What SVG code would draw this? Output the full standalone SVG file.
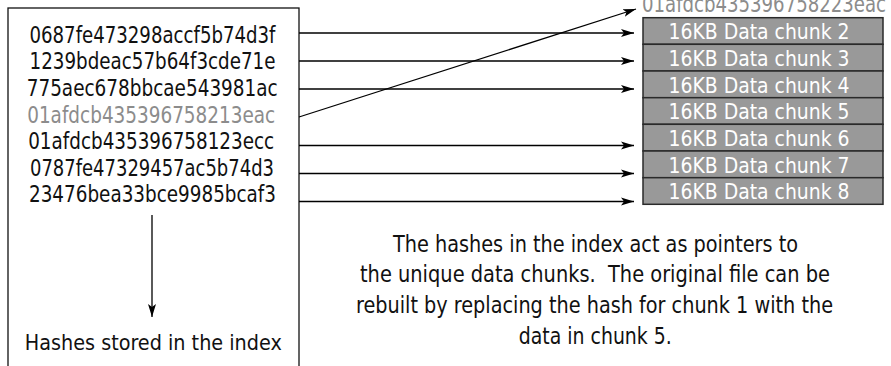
<svg xmlns="http://www.w3.org/2000/svg" width="891" height="366" viewBox="0 0 891 366">
<style>
.t{font-family:"DejaVu Sans Condensed","Liberation Sans",Arial,sans-serif;font-size:23px;fill:#111;text-anchor:middle}
.g{fill:#8c8c8c}
.c{font-family:"DejaVu Sans Condensed","Liberation Sans",Arial,sans-serif;font-size:21px;fill:#fff;text-anchor:middle}
.ch{fill:#999;stroke:#2a2a2a;stroke-width:1.5}
.ln{stroke:#000;stroke-width:1.3;fill:none}
</style>
<defs>
<marker id="ah" markerUnits="userSpaceOnUse" markerWidth="14" markerHeight="10" refX="13" refY="5" orient="auto">
<path d="M0,1 L13,5 L0,9 L3,5 Z" fill="#000"/>
</marker>
</defs>
<rect x="0" y="0" width="891" height="366" fill="#fff"/>
<g id="index">
<rect x="8" y="8" width="291" height="370" fill="#fff" stroke="#111" stroke-width="1.3"/>
<text class="t" x="152.5" y="42.5" textLength="246" lengthAdjust="spacingAndGlyphs">0687fe473298accf5b74d3f</text>
<text class="t" x="152.5" y="69.2" textLength="246" lengthAdjust="spacingAndGlyphs">1239bdeac57b64f3cde71e</text>
<text class="t" x="152.2" y="95.8" textLength="251" lengthAdjust="spacingAndGlyphs">775aec678bbcae543981ac</text>
<text class="t g" x="151.2" y="122.5" textLength="248" lengthAdjust="spacingAndGlyphs">01afdcb435396758213eac</text>
<text class="t" x="151.2" y="149.1" textLength="246" lengthAdjust="spacingAndGlyphs">01afdcb435396758123ecc</text>
<text class="t" x="152" y="175.8" textLength="244" lengthAdjust="spacingAndGlyphs">0787fe47329457ac5b74d3</text>
<text class="t" x="152.5" y="202.4" textLength="247" lengthAdjust="spacingAndGlyphs">23476bea33bce9985bcaf3</text>
<text class="t" x="153.3" y="350" style="font-size:22px" textLength="257" lengthAdjust="spacingAndGlyphs">Hashes stored in the index</text>
</g>
<g id="chunks">
<text class="t g" x="764" y="12" textLength="244" lengthAdjust="spacingAndGlyphs">01afdcb435396758223eac</text>
<rect class="ch" x="643" y="17.7" width="240" height="26.6"/>
<rect class="ch" x="643" y="44.3" width="240" height="26.7"/>
<rect class="ch" x="643" y="71" width="240" height="26.7"/>
<rect class="ch" x="643" y="97.7" width="240" height="26.6"/>
<rect class="ch" x="643" y="124.3" width="240" height="26.7"/>
<rect class="ch" x="643" y="151" width="240" height="26.7"/>
<rect class="ch" x="643" y="177.7" width="240" height="26.6"/>
<text class="c" x="759" y="39.3" textLength="181" lengthAdjust="spacingAndGlyphs">16KB Data chunk 2</text>
<text class="c" x="759" y="66" textLength="181" lengthAdjust="spacingAndGlyphs">16KB Data chunk 3</text>
<text class="c" x="759" y="92.6" textLength="181" lengthAdjust="spacingAndGlyphs">16KB Data chunk 4</text>
<text class="c" x="759" y="119.3" textLength="181" lengthAdjust="spacingAndGlyphs">16KB Data chunk 5</text>
<text class="c" x="759" y="146" textLength="181" lengthAdjust="spacingAndGlyphs">16KB Data chunk 6</text>
<text class="c" x="759" y="172.6" textLength="181" lengthAdjust="spacingAndGlyphs">16KB Data chunk 7</text>
<text class="c" x="759" y="199.3" textLength="181" lengthAdjust="spacingAndGlyphs">16KB Data chunk 8</text>
</g>
<g id="note">
<text class="t" x="595.5" y="251.5" textLength="405" lengthAdjust="spacingAndGlyphs">The hashes in the index act as pointers to</text>
<text class="t" x="595" y="282.3" textLength="470" lengthAdjust="spacingAndGlyphs" xml:space="preserve">the unique data chunks.  The original file can be</text>
<text class="t" x="594.5" y="313" textLength="477" lengthAdjust="spacingAndGlyphs">rebuilt by replacing the hash for chunk 1 with the</text>
<text class="t" x="595.3" y="344" textLength="153" lengthAdjust="spacingAndGlyphs">data in chunk 5.</text>
</g>
<g id="connectors">
<line class="ln" x1="299" y1="33" x2="634" y2="33" marker-end="url(#ah)"/>
<line class="ln" x1="299" y1="61" x2="634" y2="61" marker-end="url(#ah)"/>
<line class="ln" x1="299" y1="89" x2="634" y2="89" marker-end="url(#ah)"/>
<line class="ln" x1="299" y1="117" x2="636" y2="9" marker-end="url(#ah)"/>
<line class="ln" x1="299" y1="145.5" x2="634" y2="145.5" marker-end="url(#ah)"/>
<line class="ln" x1="299" y1="173.5" x2="634" y2="173.5" marker-end="url(#ah)"/>
<line class="ln" x1="299" y1="201.5" x2="634" y2="201.5" marker-end="url(#ah)"/>
<line class="ln" x1="152" y1="215" x2="152" y2="317" marker-end="url(#ah)"/>
</g>
</svg>
